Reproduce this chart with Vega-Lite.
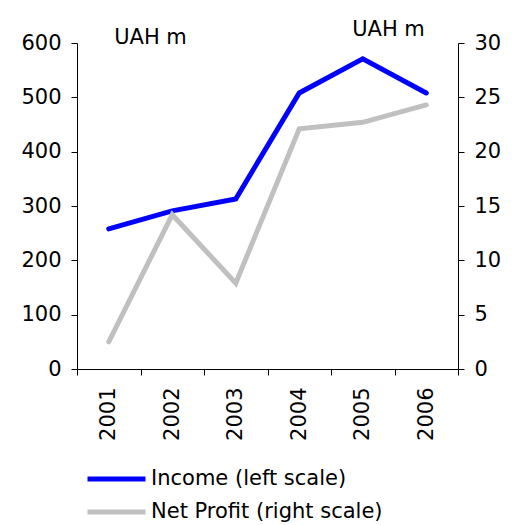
{
  "$schema": "https://vega.github.io/schema/vega-lite/v6.json",
  "autosize": "none",
  "padding": {"left": 77, "top": 43, "right": 58, "bottom": 156},
  "width": 381,
  "height": 326,
  "config": {
    "font": "DejaVu Sans",
    "view": {"stroke": null},
    "axis": {
      "domainColor": "#000",
      "tickColor": "#000",
      "labelColor": "#000",
      "titleColor": "#000",
      "labelFont": "DejaVu Sans",
      "titleFont": "DejaVu Sans",
      "labelFontSize": 21,
      "titleFontSize": 21,
      "titleFontWeight": "normal",
      "grid": false,
      "tickSize": 6,
      "domainWidth": 1,
      "tickWidth": 1
    },
    "legend": {
      "labelFont": "DejaVu Sans",
      "labelFontSize": 21,
      "labelColor": "#000",
      "labelLimit": 400
    }
  },
  "data": {
    "values": [
      {"year": "2001", "series": "Income (left scale)", "value": 258},
      {"year": "2002", "series": "Income (left scale)", "value": 291},
      {"year": "2003", "series": "Income (left scale)", "value": 313},
      {"year": "2004", "series": "Income (left scale)", "value": 508},
      {"year": "2005", "series": "Income (left scale)", "value": 571},
      {"year": "2006", "series": "Income (left scale)", "value": 508},
      {"year": "2001", "series": "Net Profit (right scale)", "value": 2.5},
      {"year": "2002", "series": "Net Profit (right scale)", "value": 14.2},
      {"year": "2003", "series": "Net Profit (right scale)", "value": 7.9},
      {"year": "2004", "series": "Net Profit (right scale)", "value": 22.1},
      {"year": "2005", "series": "Net Profit (right scale)", "value": 22.7},
      {"year": "2006", "series": "Net Profit (right scale)", "value": 24.3}
    ]
  },
  "encoding": {
    "x": {
      "field": "year",
      "type": "nominal",
      "scale": {"paddingInner": 0, "paddingOuter": 0},
      "axis": {
        "title": null,
        "labelAngle": -90,
        "labelAlign": "right",
        "labelBaseline": "middle",
        "labelPadding": 12,
        "tickBand": "extent"
      }
    },
    "color": {
      "field": "series",
      "type": "nominal",
      "scale": {
        "domain": ["Income (left scale)", "Net Profit (right scale)"],
        "range": ["#0000ff", "#c0c0c0"]
      },
      "legend": {
        "title": null,
        "orient": "none",
        "legendX": 8,
        "legendY": 419,
        "direction": "vertical",
        "symbolType": "M-1,0H3",
        "symbolSize": 841,
        "symbolStrokeWidth": 5,
        "symbolFillColor": "transparent",
        "labelOffset": 32,
        "rowPadding": 6
      }
    }
  },
  "layer": [
    {
      "transform": [{"filter": "datum.series === 'Income (left scale)'"}],
      "mark": {"type": "line", "strokeWidth": 5, "strokeCap": "round"},
      "encoding": {
        "y": {
          "field": "value",
          "type": "quantitative",
          "scale": {"domain": [0, 600], "nice": false},
          "axis": {
            "orient": "left",
            "values": [0, 100, 200, 300, 400, 500, 600],
            "labelPadding": 10,
            "title": "UAH m",
            "titleAngle": 0,
            "titleAlign": "center",
            "titleBaseline": "middle",
            "titleX": 73,
            "titleY": -6
          }
        }
      }
    },
    {
      "transform": [{"filter": "datum.series === 'Net Profit (right scale)'"}],
      "mark": {"type": "line", "strokeWidth": 5, "strokeCap": "round"},
      "encoding": {
        "y": {
          "field": "value",
          "type": "quantitative",
          "scale": {"domain": [0, 30], "nice": false},
          "axis": {
            "orient": "right",
            "values": [0, 5, 10, 15, 20, 25, 30],
            "labelPadding": 10,
            "title": "UAH m",
            "titleAngle": 0,
            "titleAlign": "center",
            "titleBaseline": "middle",
            "titleX": -70,
            "titleY": -14
          }
        }
      }
    }
  ],
  "resolve": {"scale": {"y": "independent"}}
}
